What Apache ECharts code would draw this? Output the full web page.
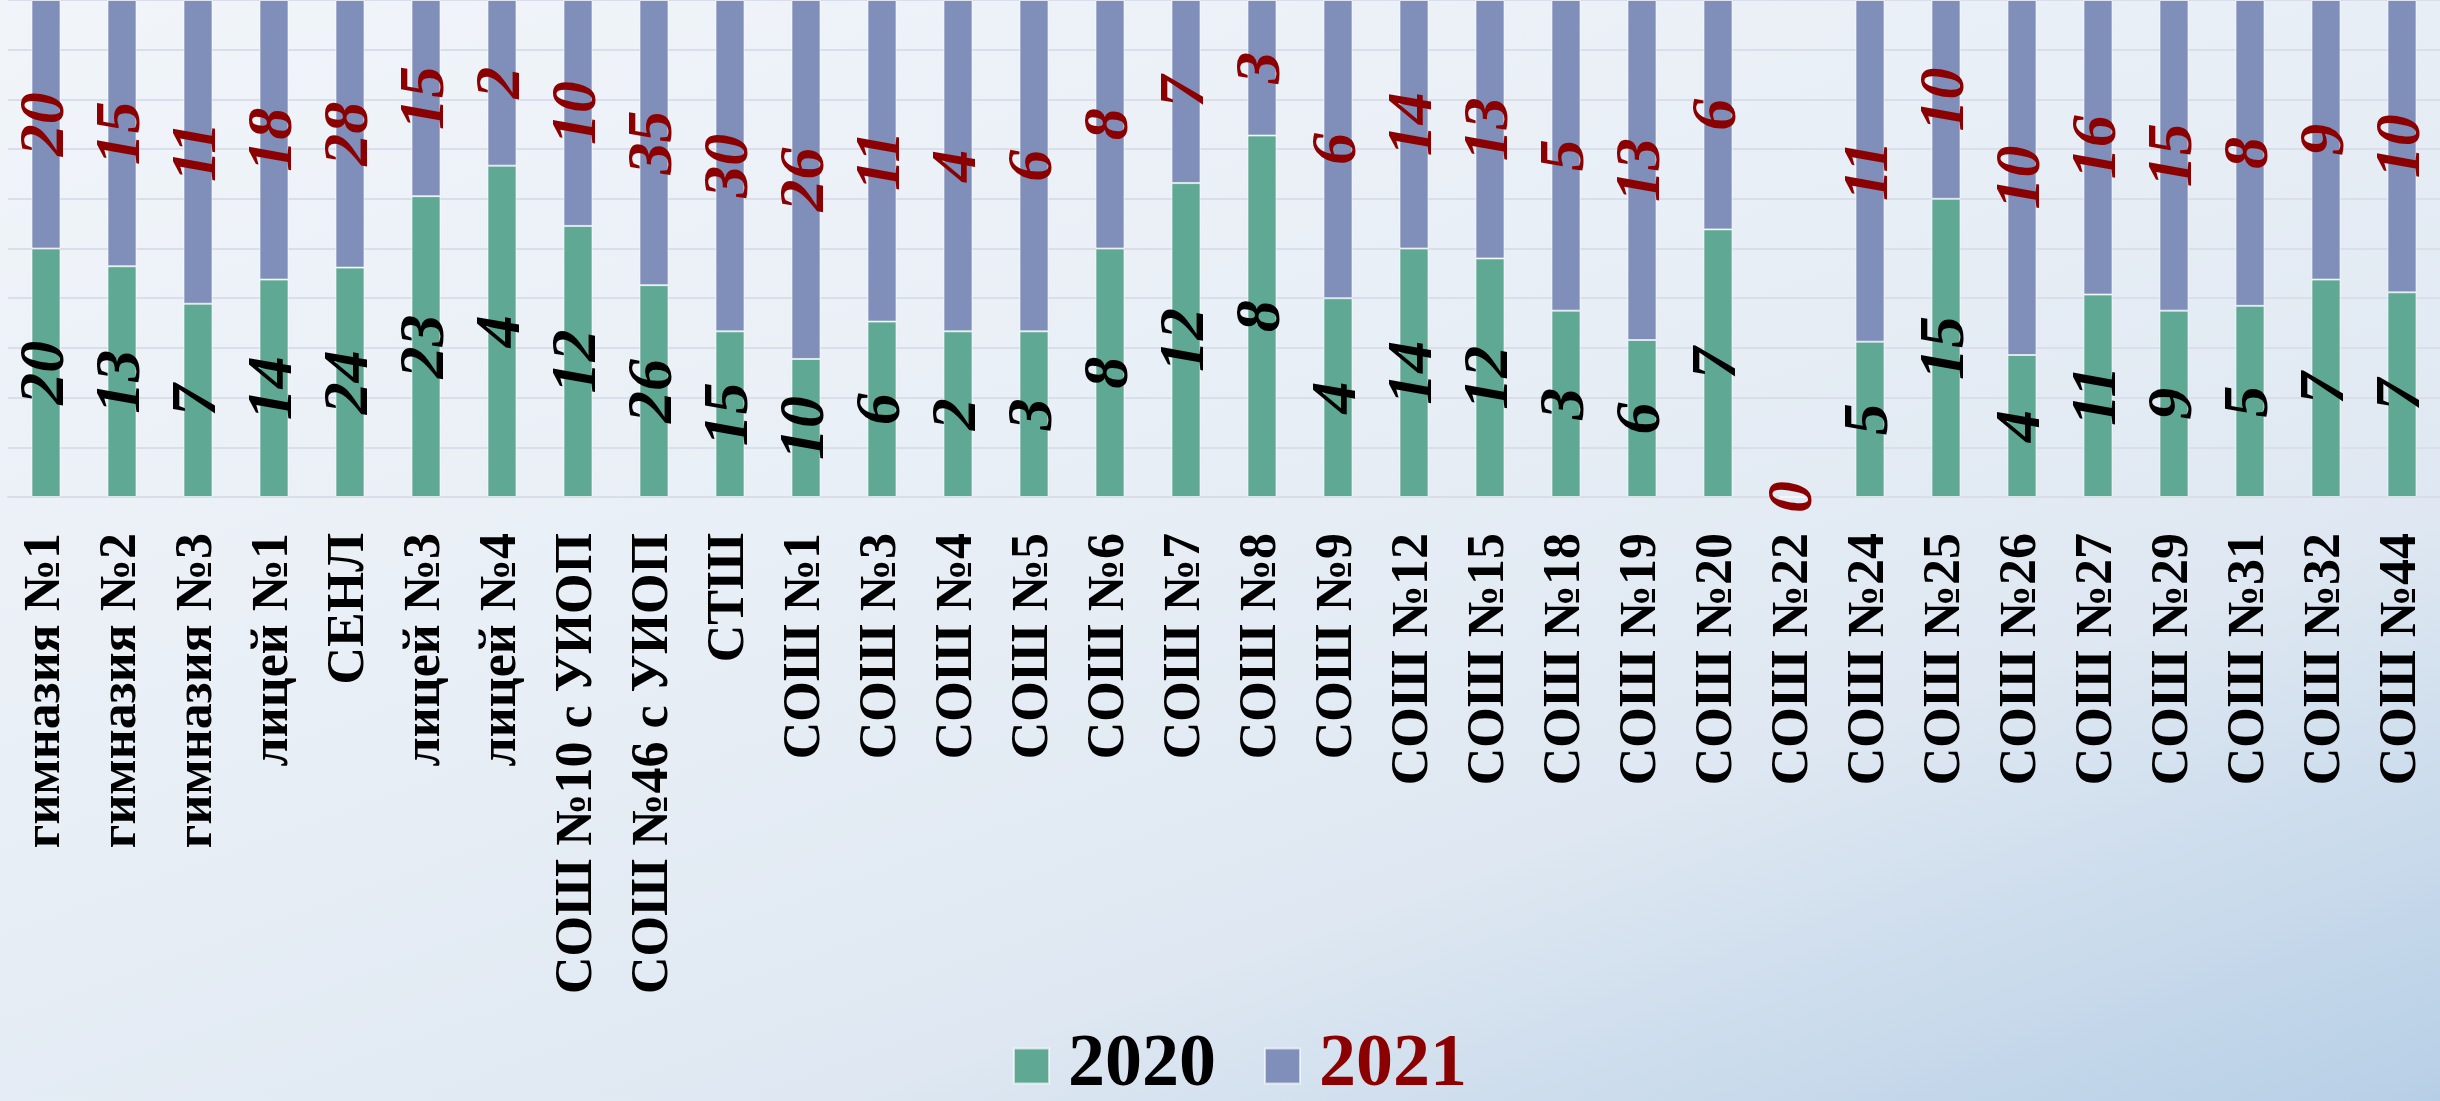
<!DOCTYPE html>
<html>
<head>
<meta charset="utf-8">
<script src="https://cdn.jsdelivr.net/npm/echarts@6/dist/echarts.min.js"></script>
<style>
    html, body {
        margin: 0;
        padding: 0;
        width: 2440px;
        height: 1101px;
        overflow: hidden;
        background: linear-gradient(160deg, #f1f5fa 0%, #e9eff6 40%, #dfe8f2 70%, #b7cfe6 100%);
    }
    #chart {
        width: 2440px;
        height: 1101px;
    }
</style>
</head>
<body>
<div id="chart"></div>
<script>
    const schools = [
        'гимназия №1', 'гимназия №2', 'гимназия №3', 'лицей №1', 'СЕНЛ', 'лицей №3', 'лицей №4',
        'СОШ №10 с УИОП', 'СОШ №46 с УИОП', 'СТШ', 'СОШ №1', 'СОШ №3', 'СОШ №4', 'СОШ №5',
        'СОШ №6', 'СОШ №7', 'СОШ №8', 'СОШ №9', 'СОШ №12', 'СОШ №15', 'СОШ №18', 'СОШ №19',
        'СОШ №20', 'СОШ №22', 'СОШ №24', 'СОШ №25', 'СОШ №26', 'СОШ №27', 'СОШ №29', 'СОШ №31',
        'СОШ №32', 'СОШ №44'
    ];
    const values2020 = [20, 13, 7, 14, 24, 23, 4, 12, 26, 15, 10, 6, 2, 3, 8, 12, 8, 4, 14, 12, 3, 6, 7, 0, 5, 15, 4, 11, 9, 5, 7, 7];
    const values2021 = [20, 15, 11, 18, 28, 15, 2, 10, 35, 30, 26, 11, 4, 6, 8, 7, 3, 6, 14, 13, 5, 13, 6, 0, 11, 10, 10, 16, 15, 8, 9, 10];

    const green = '#5fa894';
    const blue = '#7f8fba';
    const darkRed = '#8b0000';
    const serif = '"Liberation Serif", "DejaVu Serif", serif';

    // 100% stacked: each bar is the share of its year in the pair
    function toShares(own, other, hideZero) {
        return own.map((v, i) => {
            const total = v + other[i];
            const item = { value: total ? v / total * 100 : 0, raw: v };
            if (hideZero && total === 0) item.label = { show: false };
            return item;
        });
    }

    const labelBase = {
        show: true,
        position: 'inside',
        rotate: 90,
        fontFamily: serif,
        fontWeight: 'bold',
        fontStyle: 'italic',
        fontSize: 64,
        formatter: (p) => String(p.data.raw),
    };

    const chart = echarts.init(document.getElementById('chart'));
    chart.setOption({
        backgroundColor: 'transparent',
        animation: false,
        grid: { left: 8, right: -2, top: -3, bottom: 604, containLabel: false },
        legend: {
            bottom: -7,
            left: 1008,
            itemWidth: 35,
            itemHeight: 35,
            itemGap: 48,
            icon: 'rect',
            textStyle: { fontFamily: serif, fontWeight: 'bold', fontSize: 74, padding: [0, 0, 0, 14] },
            data: [
                { name: '2020', textStyle: { color: '#000' } },
                { name: '2021', textStyle: { color: darkRed } },
            ],
        },
        xAxis: {
            type: 'category',
            data: schools,
            axisTick: { show: false },
            axisLine: { lineStyle: { color: '#d9ddea', width: 2 } },
            axisLabel: {
                rotate: 90,
                margin: 36,
                interval: 0,
                color: '#000',
                fontFamily: serif,
                fontWeight: 'bold',
                fontSize: 52,
            },
        },
        yAxis: {
            type: 'value',
            min: 0,
            max: 100,
            interval: 10,
            axisLabel: { show: false },
            axisLine: { show: false },
            axisTick: { show: false },
            splitLine: { lineStyle: { color: '#dadeeb', width: 2 } },
        },
        series: [
            {
                name: '2020',
                type: 'bar',
                stack: 'total',
                barWidth: 29,
                itemStyle: { color: green, borderColor: 'rgba(255,255,255,0.6)', borderWidth: 1 },
                label: { ...labelBase, color: '#000' },
                data: toShares(values2020, values2021, true),
            },
            {
                name: '2021',
                type: 'bar',
                stack: 'total',
                barWidth: 29,
                itemStyle: { color: blue, borderColor: 'rgba(255,255,255,0.6)', borderWidth: 1 },
                label: { ...labelBase, color: darkRed },
                data: toShares(values2021, values2020, false),
            },
        ],
    });
</script>
</body>
</html>
